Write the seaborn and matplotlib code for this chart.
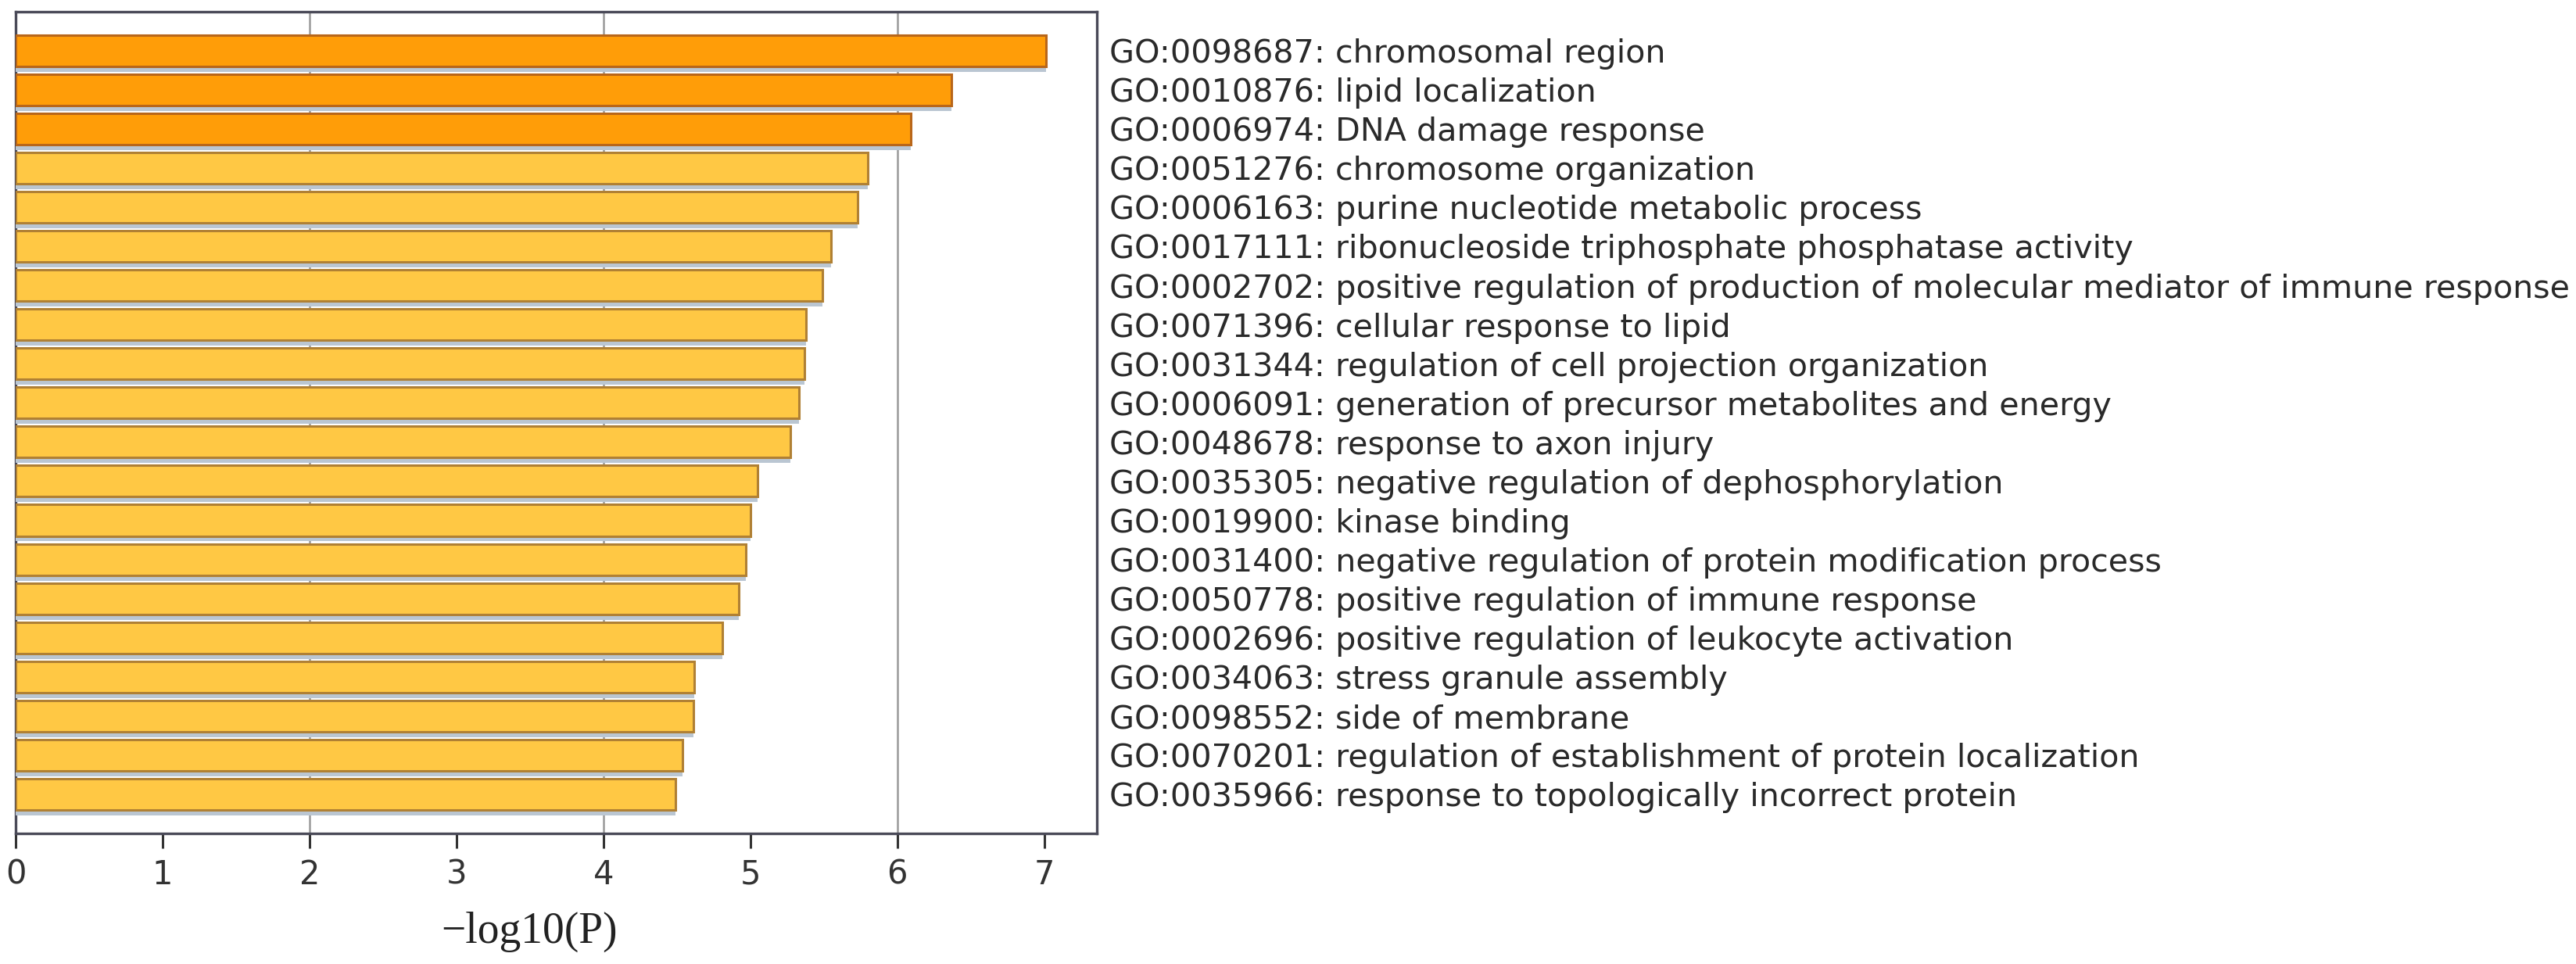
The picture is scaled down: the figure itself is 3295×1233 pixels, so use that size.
import pandas as pd
import seaborn as sns
import matplotlib.pyplot as plt
import matplotlib.patheffects as pe

terms = [
    'GO:0098687: chromosomal region',
    'GO:0010876: lipid localization',
    'GO:0006974: DNA damage response',
    'GO:0051276: chromosome organization',
    'GO:0006163: purine nucleotide metabolic process',
    'GO:0017111: ribonucleoside triphosphate phosphatase activity',
    'GO:0002702: positive regulation of production of molecular mediator of immune response',
    'GO:0071396: cellular response to lipid',
    'GO:0031344: regulation of cell projection organization',
    'GO:0006091: generation of precursor metabolites and energy',
    'GO:0048678: response to axon injury',
    'GO:0035305: negative regulation of dephosphorylation',
    'GO:0019900: kinase binding',
    'GO:0031400: negative regulation of protein modification process',
    'GO:0050778: positive regulation of immune response',
    'GO:0002696: positive regulation of leukocyte activation',
    'GO:0034063: stress granule assembly',
    'GO:0098552: side of membrane',
    'GO:0070201: regulation of establishment of protein localization',
    'GO:0035966: response to topologically incorrect protein',
]
neg_log_p = [7.01, 6.37, 6.09, 5.80, 5.73, 5.55, 5.49, 5.38, 5.37, 5.33,
             5.27, 5.05, 5.00, 4.97, 4.92, 4.81, 4.62, 4.61, 4.54, 4.49]
tier = ['top'] * 3 + ['rest'] * 17

df = pd.DataFrame({'term': terms, 'value': neg_log_p, 'tier': tier})

sns.set_style('white')
plt.rcParams['font.family'] = ['DejaVu Sans']

fig = plt.figure(figsize=(32.95, 12.33), dpi=100)
ax = fig.add_axes([0.0061, 0.1354, 0.4198, 0.8528])

fills = {'top': '#FF9D08', 'rest': '#FFC844'}
edges = {'top': '#B8661A', 'rest': '#B08034'}
sns.barplot(data=df, x='value', y='term', hue='tier', palette=fills,
            orient='h', width=0.8, dodge=False, legend=False, ax=ax,
            saturation=1, linewidth=2.2, edgecolor='#B08034', zorder=3)

# light grey-blue drop shadow under each bar
shadow = [pe.SimplePatchShadow(offset=(0, -5), shadow_rgbFace='#BAC6D2', alpha=1.0),
          pe.Normal()]
for p in ax.patches:
    fc = p.get_facecolor()
    if fc[1] < 0.7:
        p.set_edgecolor(edges['top'])
    else:
        p.set_edgecolor(edges['rest'])
    p.set_path_effects(shadow)

ax.set_xlim(0, 7.36)
ax.set_ylim(len(terms), -1)
ax.set_xticks(range(8))
ax.tick_params(axis='x', bottom=True, length=14, width=2.2, pad=9, labelsize=30,
               colors='#333333', direction='out')
ax.grid(axis='x', color='#9A9A9A', linewidth=1.8, zorder=0)
ax.grid(axis='y', visible=False)
for i, gl in enumerate(ax.get_xgridlines()):
    gl.set_visible(i in (2, 4, 6))

ax.yaxis.tick_right()
ax.tick_params(axis='y', length=0, pad=11, labelsize=29.7, labelcolor='#2a2a2a')
ax.set_ylabel('')
ax.set_xlabel('\u2212log10(P)', fontsize=40, family=['Liberation Serif'],
              color='#222222')
ax.xaxis.set_label_coords(0.475, -0.095)

for side in ['left', 'bottom', 'top', 'right']:
    ax.spines[side].set_visible(True)
    ax.spines[side].set_color('#4A4A58')
    ax.spines[side].set_linewidth(2.4)

fig.savefig('out.png', dpi=100, facecolor='white')
